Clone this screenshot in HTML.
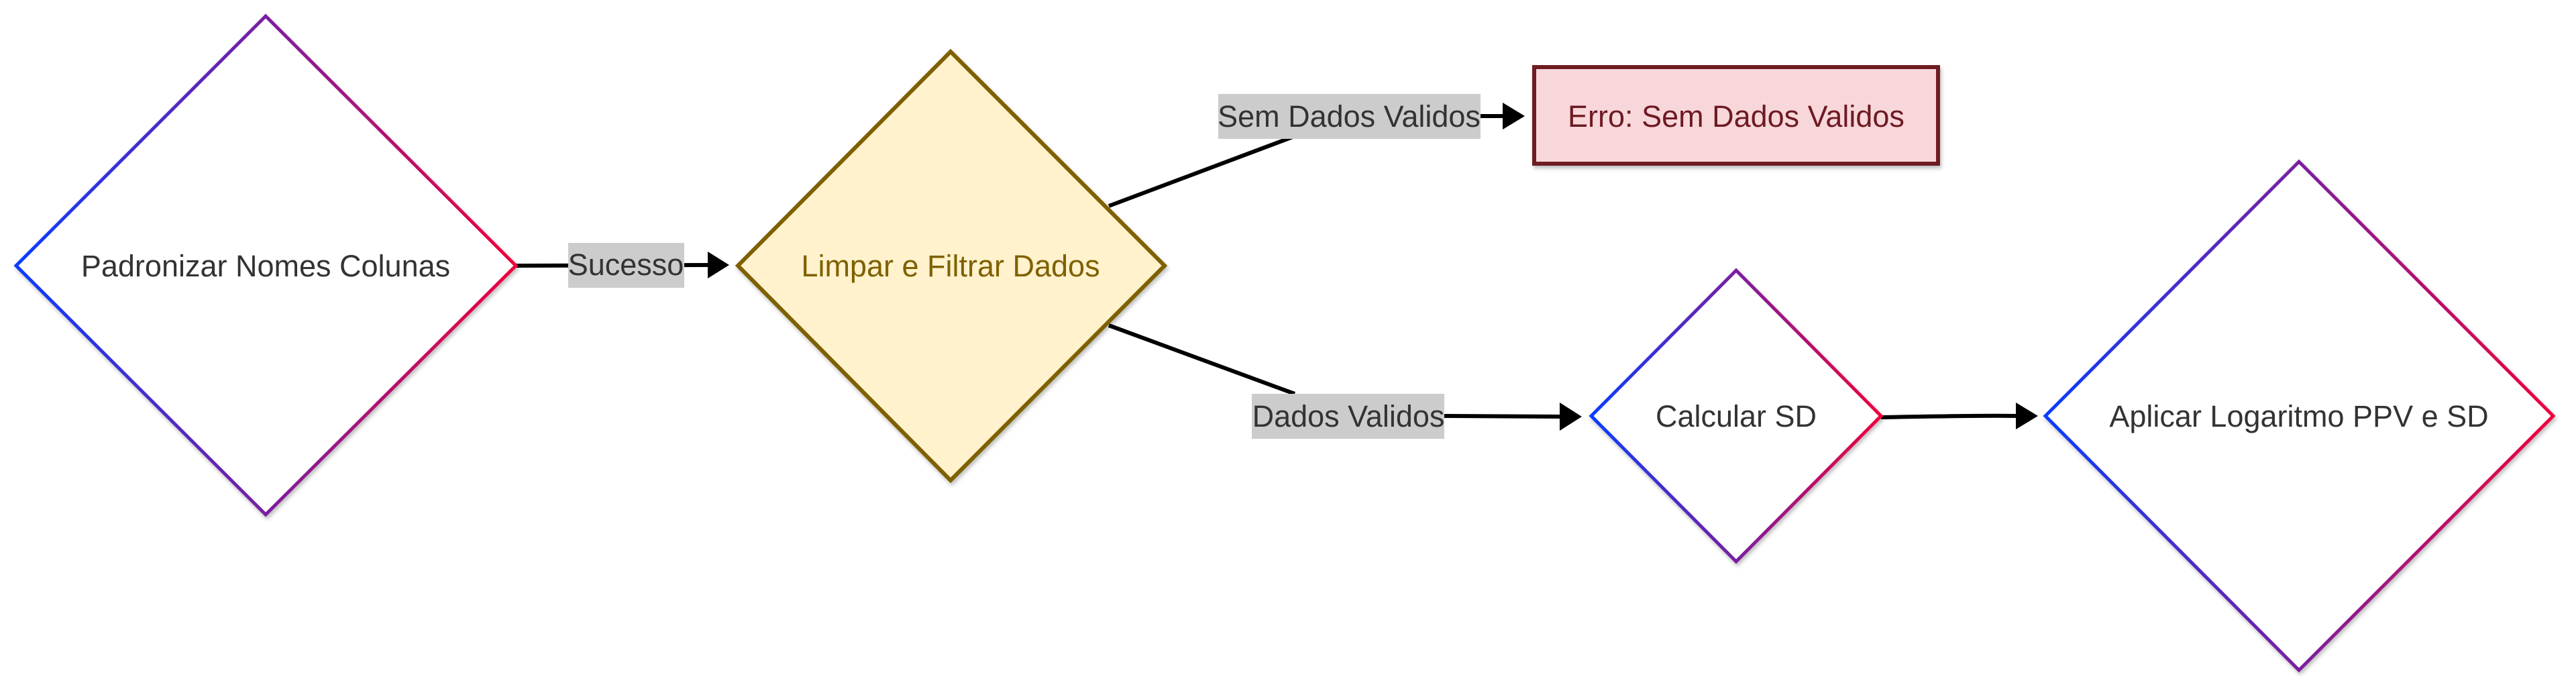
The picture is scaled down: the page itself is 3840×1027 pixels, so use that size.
<!DOCTYPE html>
<html><head><meta charset="utf-8"><style>
html,body{margin:0;padding:0;background:#fff;}
svg{display:block;}
text{font-family:"Liberation Sans",Arial,sans-serif;}
</style></head><body>
<svg width="3840" height="1027" viewBox="0 0 3840 1027" xmlns="http://www.w3.org/2000/svg">
<defs>
<linearGradient id="g1" gradientUnits="objectBoundingBox" x1="0" y1="0" x2="1" y2="0">
<stop offset="0" stop-color="#0a3cff"/><stop offset="0.5" stop-color="#7a1fa0"/><stop offset="1" stop-color="#f0003c"/>
</linearGradient>
<filter id="sh" x="-10%" y="-10%" width="120%" height="130%"><feDropShadow dx="2" dy="4" stdDeviation="3" flood-color="#000" flood-opacity="0.25"/></filter>
</defs>

<g stroke="#000" stroke-width="6" fill="none">
<line x1="769" y1="396" x2="1058" y2="395"/>
<line x1="1653" y1="307" x2="1930" y2="203"/>
<line x1="2207" y1="173" x2="2242" y2="173"/>
<line x1="1653" y1="485" x2="1930" y2="587"/>
<line x1="2153" y1="620" x2="2330" y2="621"/>
<path d="M2804 622 Q2950 619 3010 620"/>
</g>
<g fill="#000">
<polygon points="1055,375 1087,395 1055,415"/>
<polygon points="2240,153 2273,173 2240,193"/>
<polygon points="2325,600 2358,621 2325,642"/>
<polygon points="3005,600 3038,620 3005,640"/>
</g>

<rect x="847" y="362" width="173" height="67" fill="#cccccc"/>
<text x="933" y="410" font-size="45" fill="#333" text-anchor="middle">Sucesso</text>
<rect x="1816" y="140" width="391" height="67" fill="#cccccc"/>
<text x="2011" y="189" font-size="45" fill="#333" text-anchor="middle">Sem Dados Validos</text>
<rect x="1866" y="587" width="287" height="67" fill="#cccccc"/>
<text x="2010" y="636" font-size="45" fill="#333" text-anchor="middle">Dados Validos</text>

<polygon points="396,24 769,396 396,767 24,396" fill="#fff" stroke="url(#g1)" stroke-width="5" filter="url(#sh)"/>
<text x="396" y="412" font-size="45" fill="#333" text-anchor="middle">Padronizar Nomes Colunas</text>

<polygon points="1417,77 1736,396 1417,716 1100,396" fill="#fff2cc" stroke="#7f6000" stroke-width="6" filter="url(#sh)"/>
<text x="1417" y="412" font-size="45" fill="#7f6000" text-anchor="middle">Limpar e Filtrar Dados</text>

<rect x="2287" y="100" width="602" height="144" fill="#f8d7da" stroke="#6e1a22" stroke-width="6" filter="url(#sh)"/>
<text x="2588" y="189" font-size="45" fill="#6e1a22" text-anchor="middle">Erro: Sem Dados Validos</text>

<polygon points="2588,403 2804,620 2588,837 2372,620" fill="#fff" stroke="url(#g1)" stroke-width="5" filter="url(#sh)"/>
<text x="2588" y="636" font-size="45" fill="#333" text-anchor="middle">Calcular SD</text>

<polygon points="3427,241 3806,620 3427,999 3049,620" fill="#fff" stroke="url(#g1)" stroke-width="5" filter="url(#sh)"/>
<text x="3427" y="636" font-size="45" fill="#333" text-anchor="middle">Aplicar Logaritmo PPV e SD</text>
</svg>
</body></html>
